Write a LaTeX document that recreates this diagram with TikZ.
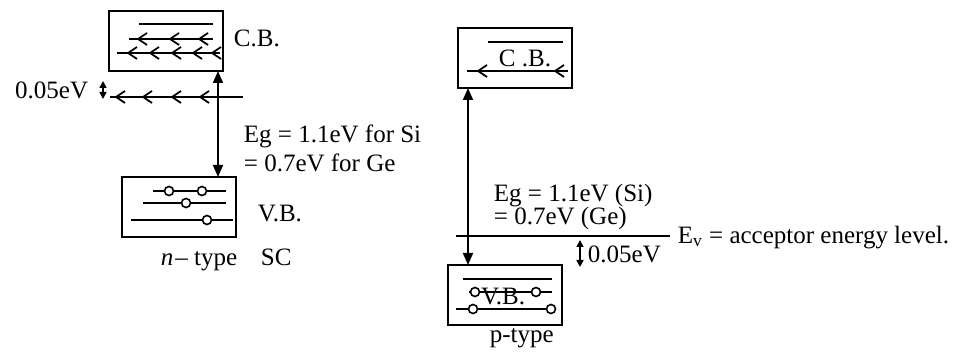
\documentclass[tikz,border=0pt]{standalone}
\usepackage{fontspec}
\setmainfont{Liberation Serif}
\usetikzlibrary{arrows.meta,positioning}

\begin{document}
\begin{tikzpicture}[x=0.5pt,y=-0.5pt,line width=0.9pt,
 font=\fontsize{12.5}{14}\selectfont,
 band/.style={draw,line width=1pt,minimum width=57pt,minimum height=30pt,inner sep=0pt,outer sep=0pt},
 gap/.style={{Triangle[length=6pt,width=5pt]}-{Triangle[length=6pt,width=5pt]}},
 tiny/.style={{Triangle[length=3.5pt,width=3.5pt]}-{Triangle[length=3.5pt,width=3.5pt]},line width=0.8pt},
 lbl/.style={inner sep=0pt,anchor=base west},
 hole/.style={draw,fill=white,circle,inner sep=0pt,minimum size=4.5pt,line width=0.8pt}]
\useasboundingbox (0,0) rectangle (965,353);
% n-type
\node[band] (cbL) at (165.5,41) {};
\node[band] (vbL) at (179,207) {};
\node[lbl] (cbLtxt) at (233,47) {C.B.};
\node[lbl] (vbLtxt) at (257,221) {V.B.};
\node[lbl] (ntype) at (160,265) {\textit{n}\kern1pt– type};
\node[lbl] (scL) at (260,265) {SC};
\node[lbl] (egL1) at (243,143) {Eg = 1.1eV for Si};
\node[lbl] (egL2) at (243,172) {= 0.7eV for Ge};
\node[inner sep=0pt,anchor=base east] (dL) at (89,99) {0.05eV};
\draw (139,24) -- (213,24);
\draw (129,39) -- (213,39);
\draw (117,53) -- (220,53);
\draw (110,97) -- (243,97);
\foreach \x in {138,170,199} \draw (\x+9,33) -- (\x,39) -- (\x+9,45);
\foreach \x in {128,150,172,193,212} \draw (\x+9,47) -- (\x,53) -- (\x+9,59);
\foreach \x in {116,143,172,200} \draw (\x+9,91) -- (\x,97) -- (\x+9,103);
\draw (153,191) -- (226,191);
\draw (143,203) -- (226,203);
\draw (131,220) -- (233,220);
\foreach \x/\y in {169/191,202/191,186/203,207/220} \node[hole] at (\x,\y) {};
\coordinate (gL) at (218,0);
\draw[gap] (vbL.north -| gL) -- (cbL.south -| gL);
\coordinate (sL1) at (103,81);
\coordinate (sL2) at (103,99);
\draw[tiny] (sL1) -- (sL2);
% p-type
\node[band] (cbR) at (515,58) {};
\node[band] (vbR) at (504.5,295) {};
\node (cbRtxt) at (525,58) {C .B.};
\node (vbRtxt) at (503,297) {V.B.};
\node[lbl] (ptype) at (489,343) {p-type};
\node[lbl] (egR1) at (493,202) {Eg = 1.1eV (Si)};
\node[lbl] (egR2) at (493,225) {= 0.7eV (Ge)};
\node[lbl] (dR) at (587,263) {0.05eV};
\node[lbl] (evR) at (677,243) {E\textsubscript{v} = acceptor energy level.};
\draw (488,42) -- (563,42);
\draw (467,71) -- (568,71);
\foreach \x in {478,555} \draw (\x+9,65) -- (\x,71) -- (\x+9,77);
\draw (463,279) -- (552,279);
\draw (469,292) -- (552,292);
\draw (456,309) -- (555,309);
\foreach \x/\y in {475/292,536/292,473/309,551/309} \node[hole] at (\x,\y) {};
\draw (456,236) -- (670,236);
\coordinate (gR) at (468,0);
\draw[gap] (vbR.north -| gR) -- (cbR.south -| gR);
\coordinate (sR1) at (580,240);
\coordinate (sR2) at (580,267);
\draw[tiny] (sR1) -- (sR2);
\end{tikzpicture}
\end{document}
